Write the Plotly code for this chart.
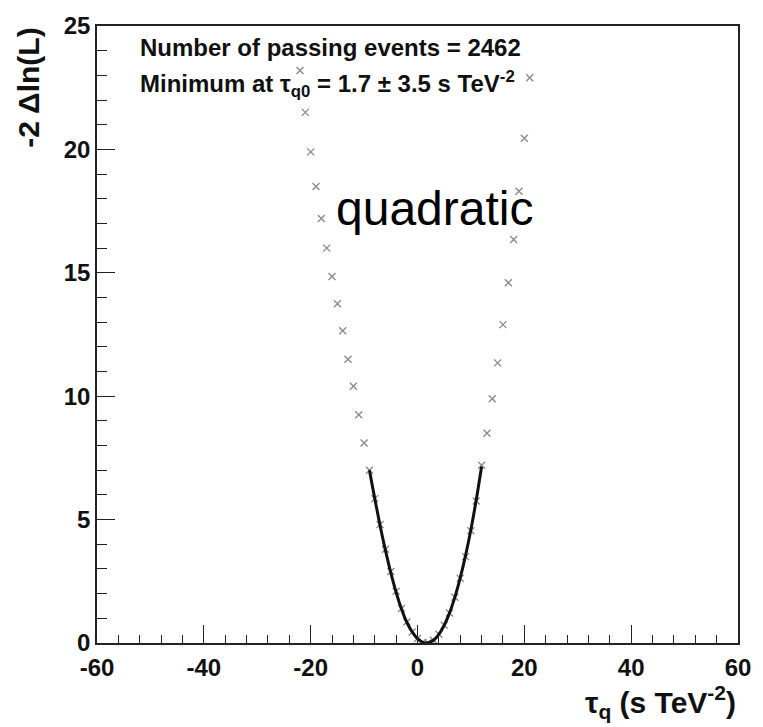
import plotly.graph_objects as go

# Likelihood scan points (tau_q in s TeV^-2, -2 Delta ln L)
scan_x = [-22, -21, -20, -19, -18, -17, -16, -15, -14, -13, -12, -11, -10, -9,
          -8, -7, -6, -5, -4, -3, -2, -1, 0, 1, 2, 3, 4, 5, 6, 7, 8, 9, 10, 11,
          12, 13, 14, 15, 16, 17, 18, 19, 20, 21]
scan_y = [23.2, 21.5, 19.9, 18.5, 17.2, 16.0, 14.85, 13.75, 12.65, 11.5, 10.4, 9.25, 8.1, 7.0,
          5.85, 4.8, 3.8, 2.9, 2.1, 1.4, 0.85, 0.45, 0.18, 0.03, 0.01, 0.11, 0.35, 0.72, 1.22, 1.85,
          2.62, 3.5, 4.55, 5.75,
          7.2, 8.5, 9.9, 11.35, 12.9, 14.6, 16.35, 18.3, 20.45, 22.9]

# Quadratic fit curve
fit_x = [-9, -8, -7, -6, -5, -4, -3, -2, -1, 0, 1, 1.7, 2, 3, 4, 5, 6, 7, 8, 9, 10, 11, 12]
fit_y = [7.0, 5.85, 4.75, 3.75, 2.85, 2.05, 1.38, 0.84, 0.45, 0.18, 0.03, 0.0, 0.01, 0.11,
         0.35, 0.72, 1.22, 1.86, 2.64, 3.55, 4.6, 5.8, 7.15]

x_ticks = [-60, -40, -20, 0, 20, 40, 60]
x_tick_labels = ["-60", "-40", "-20", "0", "20", "40", "60"]
y_ticks = [0, 5, 10, 15, 20, 25]
y_tick_labels = ["0", "5", "10", "15", "20", "25"]

FONT = "Liberation Sans, Arial, Helvetica, sans-serif"

fig = go.Figure()
fig.add_trace(go.Scatter(
    x=scan_x, y=scan_y, mode="markers",
    marker=dict(symbol="x-thin", size=7, color="#8c8c8c",
                line=dict(width=1.4, color="#8c8c8c")),
    showlegend=False, hoverinfo="skip"))
fig.add_trace(go.Scatter(
    x=fit_x, y=fit_y, mode="lines",
    line=dict(color="#111111", width=3, shape="spline"),
    showlegend=False, hoverinfo="skip"))

axis_common = dict(
    showgrid=False, zeroline=False, showline=True, linecolor="#222222", linewidth=1.6,
    mirror=True, ticks="inside", tickcolor="#222222", tickwidth=1.4,
    tickfont=dict(family=FONT, size=24, color="#111111", weight="bold"),
)

fig.update_xaxes(
    range=[-60, 60], tickvals=x_ticks, ticktext=x_tick_labels, ticklen=18,
    minor=dict(dtick=4, ticks="inside", ticklen=8, tickcolor="#222222", tickwidth=1.4, showgrid=False),
    ticklabelstandoff=2,
    **axis_common)
fig.update_yaxes(
    range=[0, 25], tickvals=y_ticks, ticktext=y_tick_labels, ticklen=18,
    minor=dict(dtick=1, ticks="inside", ticklen=10, tickcolor="#222222", tickwidth=1.4, showgrid=False),
    ticklabelstandoff=0,
    **axis_common)

annos = [
    dict(text="Number of passing events = 2462", x=0.0645, y=0.965, xanchor="left", yanchor="middle",
         font=dict(family=FONT, size=24, color="#111111", weight="bold")),
    dict(text="Minimum at τ<sub>q0</sub> = 1.7 ± 3.5 s TeV<sup>-2</sup>", x=0.0645, y=0.906,
         xanchor="left", yanchor="middle",
         font=dict(family=FONT, size=24, color="#111111", weight="bold")),
    dict(text="quadratic", x=0.37, y=0.705, xanchor="left", yanchor="middle",
         font=dict(family=FONT, size=48, color="#000000")),
    dict(text="τ<sub>q</sub> (s TeV<sup>-2</sup>)", x=1.0, y=-0.095, xanchor="right", yanchor="middle",
         font=dict(family=FONT, size=30, color="#111111", weight="bold")),
    dict(text="-2 Δln(L)", x=-0.108, y=1.0, xanchor="center", yanchor="top", textangle=-90,
         font=dict(family=FONT, size=30, color="#111111", weight="bold")),
]
for a in annos:
    a.update(xref="paper", yref="paper", showarrow=False)
fig.update_layout(annotations=annos)

fig.update_layout(
    width=763, height=727,
    margin=dict(l=97, r=15, t=19, b=84),
    paper_bgcolor="white", plot_bgcolor="white",
)

fig.write_html("out.html")
